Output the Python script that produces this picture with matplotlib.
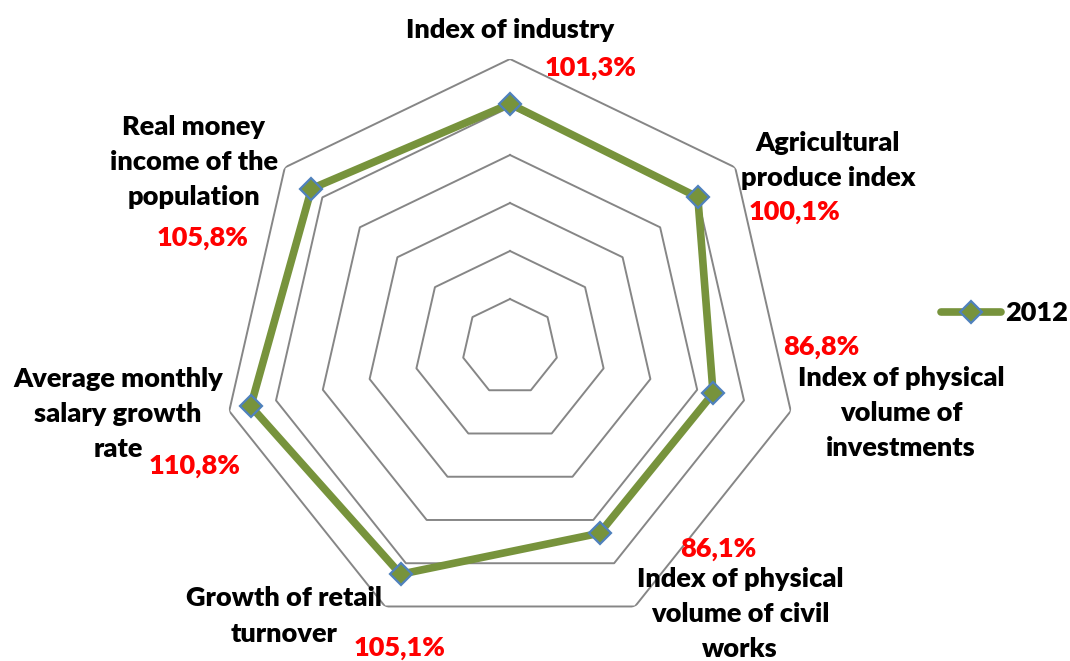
import numpy as np
import matplotlib
matplotlib.use("Agg")
import matplotlib.pyplot as plt
from matplotlib.lines import Line2D

plt.rcParams['font.family'] = ['Lato', 'DejaVu Sans']

categories = ["Index of industry", "Agricultural\nproduce index",
              "Index of physical\nvolume of\ninvestments",
              "Index of physical\nvolume of civil\nworks",
              "Growth of retail\nturnover",
              "Average monthly\nsalary growth\nrate",
              "Real money\nincome of the\npopulation"]
values = [101.3, 100.1, 86.8, 86.1, 105.1, 110.8, 105.8]
value_labels = ["101,3%", "100,1%", "86,8%", "86,1%", "105,1%", "110,8%", "105,8%"]
series_name = "2012"
rings = [20, 40, 60, 80, 100, 120]

# label positions in pixels (x, y from top)
cat_pos = [(510, 30), (828, 161), (901, 413), (740, 614), (284, 616), (118, 414), (194, 162)]
val_pos = [(591, 68), (795, 212), (821, 347), (718, 549), (400, 648), (195, 466), (203, 238)]

W, H = 1070, 661
fig = plt.figure(figsize=(W / 100, H / 100), dpi=100)
ax = fig.add_axes([222 / W, 1 - 635 / H, 576 / W, 576 / H], projection='polar')
ax.set_theta_zero_location('N')
ax.set_theta_direction(-1)

n = len(values)
theta = np.linspace(0, 2 * np.pi, n, endpoint=False)
theta_c = np.append(theta, theta[0])

for r in rings:
    ax.plot(theta_c, [r] * (n + 1), color='#868686', lw=1.4, zorder=1)

vals_c = values + [values[0]]
ax.plot(theta_c, vals_c, color='#77933C', lw=5.5, solid_joinstyle='miter', zorder=3)
ax.plot(theta, values, linestyle='none', marker='D', markersize=11,
        markerfacecolor='#77933C', markeredgecolor='#4F81BD', markeredgewidth=1.6, zorder=4)

ax.set_ylim(0, 120)
ax.set_xticks([])
ax.set_yticks([])
ax.grid(False)
ax.spines['polar'].set_visible(False)
ax.set_facecolor('none')

fs = 19.5
for lab, (x, y) in zip(categories, cat_pos):
    fig.text(x / W, 1 - y / H, lab, ha='center', va='center', fontsize=fs,
             fontweight='heavy', color='black', linespacing=1.55)
for lab, (x, y) in zip(value_labels, val_pos):
    fig.text(x / W, 1 - y / H, lab, ha='center', va='center', fontsize=fs,
             fontweight='heavy', color='#FF0000')

handle = Line2D([], [], color='#77933C', lw=5.5, solid_capstyle='round', marker='D',
                markersize=11, markerfacecolor='#77933C', markeredgecolor='#4F81BD',
                markeredgewidth=1.6)
leg = fig.legend([handle], [series_name], loc='center left',
                 bbox_to_anchor=(941 / W, 1 - 313 / H), frameon=False,
                 borderpad=0, borderaxespad=0,
                 handlelength=2.2, handletextpad=0.15,
                 prop={'weight': 'heavy', 'size': fs})

fig.savefig("out.png", dpi=100)
